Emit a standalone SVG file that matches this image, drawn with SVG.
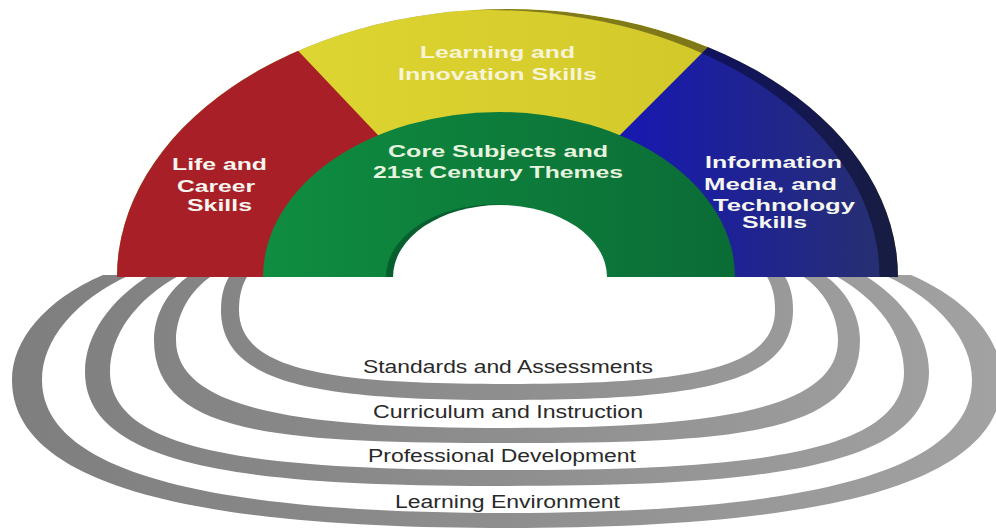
<svg xmlns="http://www.w3.org/2000/svg" width="996" height="529" viewBox="0 0 996 529">
<style>
  .wl { font-family: "Liberation Sans", Arial, Helvetica, sans-serif; font-weight: bold; font-size: 16px; fill: #f6f6f0; text-anchor: middle; }
  .gl { fill: #e6f3df; }
  .yl { fill: #f7f4d8; }
  .rl { font-family: "Liberation Sans", Arial, Helvetica, sans-serif; font-size: 17.5px; fill: #2a2a2a; text-anchor: middle; }
  .ring { fill: url(#ringGrad); }
</style>
<defs>
  <linearGradient id="ringGrad" gradientUnits="userSpaceOnUse" x1="0" y1="0" x2="996" y2="0">
    <stop offset="0" stop-color="#7e7e7e"/>
    <stop offset="0.5" stop-color="#8e8e8e"/>
    <stop offset="1" stop-color="#a2a2a2"/>
  </linearGradient>
  <linearGradient id="blueGrad" gradientUnits="userSpaceOnUse" x1="600" y1="0" x2="890" y2="0">
    <stop offset="0" stop-color="#1616b6"/>
    <stop offset="1" stop-color="#27306f"/>
  </linearGradient>
  <linearGradient id="greenGrad" gradientUnits="userSpaceOnUse" x1="263" y1="0" x2="735" y2="0">
    <stop offset="0" stop-color="#0f8d40"/>
    <stop offset="1" stop-color="#0b6c36"/>
  </linearGradient>
  <linearGradient id="yellowGrad" gradientUnits="userSpaceOnUse" x1="300" y1="0" x2="710" y2="0">
    <stop offset="0" stop-color="#ddd531"/>
    <stop offset="1" stop-color="#d3c82a"/>
  </linearGradient>
  <clipPath id="outerClip">
    <path d="M 117 277 A 390.5 268 0 0 1 898 277 Z"/>
  </clipPath>
</defs>
<rect width="996" height="529" fill="#ffffff"/>

<g id="rings">
  <g id="ring-standards">
    <path class="ring" d="M 230 275 C 224 285 221 295 221 310 C 221 385 320 400 507 400 C 694 400 793 385 793 310 C 793 295 790 285 784 275 L 766 275 C 772 285 775 295 775 310 C 775 372 679 384 507 384 C 335 384 239 372 239 310 C 239 295 242 285 248 275 Z"/>
    <text class="rl" x="508" y="373" textLength="290" lengthAdjust="spacingAndGlyphs">Standards and Assessments</text>
  </g>
  <g id="ring-curriculum">
    <path class="ring" d="M 190 275 C 168 290 154 315 154 340 C 154 435 280 443 507 443 C 734 443 860 435 860 340 C 860 315 846 290 824 275 L 801 275 C 824 290 838 315 838 340 C 838 412 704 428 507 428 C 310 428 176 412 176 340 C 176 315 190 290 213 275 Z"/>
    <text class="rl" x="508" y="418" textLength="270" lengthAdjust="spacingAndGlyphs">Curriculum and Instruction</text>
  </g>
  <g id="ring-professional">
    <path class="ring" d="M 150 275 C 110 300 85 335 85 372 C 85 470 260 486 507 486 C 754 486 929 470 929 372 C 929 335 904 300 864 275 L 834 275 C 879 300 904 335 904 372 C 904 455 744 470 507 470 C 270 470 110 455 110 372 C 110 335 135 300 180 275 Z"/>
    <text class="rl" x="502" y="462" textLength="268" lengthAdjust="spacingAndGlyphs">Professional Development</text>
  </g>
  <g id="ring-environment">
    <path class="ring" d="M 103 275 C 45 300 12 340 12 380 C 12 500 250 528 507 528 C 764 528 1002 500 1002 380 C 1002 340 969 300 911 275 L 884 275 C 939 300 972 340 972 380 C 972 485 754 513 507 513 C 260 513 42 485 42 380 C 42 340 75 300 130 275 Z"/>
    <text class="rl" x="507.5" y="508" textLength="225" lengthAdjust="spacingAndGlyphs">Learning Environment</text>
  </g>
</g>

<g id="rainbow">
  <g id="learning-innovation">
    <rect x="100" y="0" width="810" height="280" fill="url(#yellowGrad)" clip-path="url(#outerClip)"/>
  </g>
  <g id="life-career">
    <polygon points="100,0 250,0 430,190 430,280 100,280" fill="#a81f27" clip-path="url(#outerClip)"/>
  </g>
  <g id="information-media">
    <polygon points="755,0 910,0 910,280 570,280 570,185" fill="url(#blueGrad)" clip-path="url(#outerClip)"/>
  </g>
  <g id="rainbow-edge">
    <path d="M 117 277 A 390.5 268 0 0 1 898 277 Z M 98.5 277 A 390.5 267 0 1 0 879.5 277 A 390.5 267 0 1 0 98.5 277 Z" fill="#000000" fill-opacity="0.4" fill-rule="evenodd" clip-path="url(#outerClip)"/>
  </g>
  <g id="core-subjects">
    <path d="M 263 277 A 236 165 0 0 1 735 277 Z" fill="url(#greenGrad)"/>
    <path d="M 386 277 A 108 72.5 0 0 1 602 277 Z" fill="#075f2e"/>
    <path d="M 393 277 A 107 72 0 0 1 607 277 Z" fill="#ffffff"/>
    <text class="wl gl" x="498" y="157" textLength="220" lengthAdjust="spacingAndGlyphs">Core Subjects and</text>
    <text class="wl gl" x="498" y="178" textLength="250" lengthAdjust="spacingAndGlyphs">21st Century Themes</text>
  </g>
  <g id="rainbow-labels">
    <text class="wl yl" x="497.5" y="58" textLength="155" lengthAdjust="spacingAndGlyphs">Learning and</text>
    <text class="wl yl" x="497.5" y="80" textLength="199" lengthAdjust="spacingAndGlyphs">Innovation Skills</text>
    <text class="wl" x="219.5" y="170" textLength="95" lengthAdjust="spacingAndGlyphs">Life and</text>
    <text class="wl" x="216" y="192" textLength="78" lengthAdjust="spacingAndGlyphs">Career</text>
    <text class="wl" x="219.5" y="211" textLength="65" lengthAdjust="spacingAndGlyphs">Skills</text>
    <text class="wl" x="773.5" y="168" textLength="137" lengthAdjust="spacingAndGlyphs">Information</text>
    <text class="wl" x="770.5" y="190" textLength="133" lengthAdjust="spacingAndGlyphs">Media, and</text>
    <text class="wl" x="784" y="211" textLength="142" lengthAdjust="spacingAndGlyphs">Technology</text>
    <text class="wl" x="774.5" y="228" textLength="65" lengthAdjust="spacingAndGlyphs">Skills</text>
  </g>
</g>
<g id="connectors"/>
</svg>
